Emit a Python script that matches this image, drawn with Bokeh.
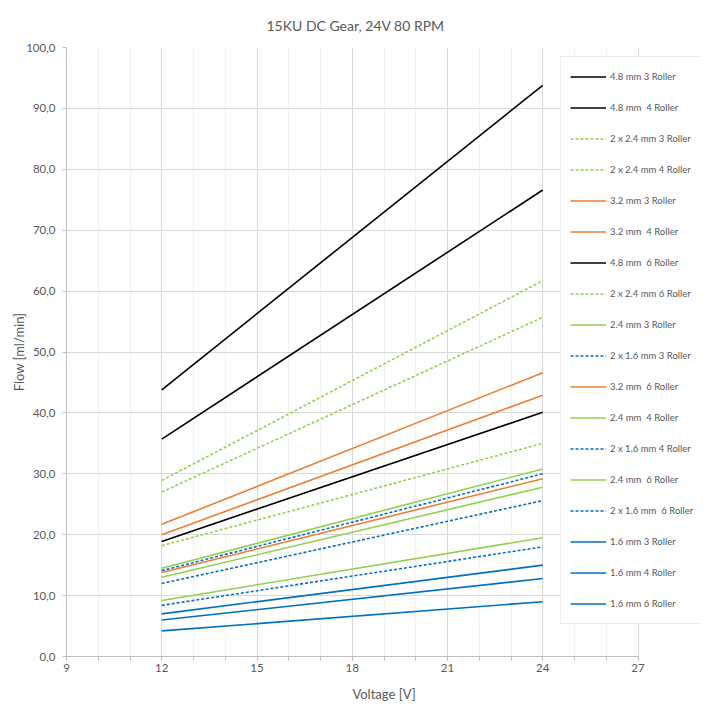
from bokeh.plotting import figure
from bokeh.models import Legend, LegendItem, FixedTicker
from bokeh.embed import file_html
from bokeh.resources import INLINE

voltage = [12, 24]
series_names = [
    "4.8 mm 3 Roller", "4.8 mm  4 Roller", "2 x 2.4 mm 3 Roller", "2 x 2.4 mm 4 Roller",
    "3.2 mm 3 Roller", "3.2 mm  4 Roller", "4.8 mm  6 Roller", "2 x 2.4 mm 6 Roller",
    "2.4 mm 3 Roller", "2 x 1.6 mm 3 Roller", "3.2 mm  6 Roller", "2.4 mm  4 Roller",
    "2 x 1.6 mm 4 Roller", "2.4 mm  6 Roller", "2 x 1.6 mm  6 Roller", "1.6 mm 3 Roller",
    "1.6 mm 4 Roller", "1.6 mm 6 Roller",
]
flow_at_12v = [43.8, 35.7, 28.9, 27.0, 21.7, 20.0, 18.9, 18.2, 14.5, 14.1, 13.8, 13.0, 12.0, 9.2, 8.4, 7.0, 6.0, 4.2]
flow_at_24v = [93.8, 76.6, 61.7, 55.7, 46.6, 42.9, 40.1, 35.0, 30.8, 30.0, 29.2, 27.8, 25.6, 19.5, 18.0, 15.0, 12.8, 9.0]

x_ticks = [9, 12, 15, 18, 21, 24, 27]
x_minor = list(range(9, 28))
y_ticks = [0, 10, 20, 30, 40, 50, 60, 70, 80, 90, 100]
y_tick_labels = ["0,0", "10,0", "20,0", "30,0", "40,0", "50,0", "60,0", "70,0", "80,0", "90,0", "100,0"]

BLACK, GREEN, ORANGE, BLUE = "#000000", "#92D050", "#ED7D31", "#0070C0"
colors = [BLACK, BLACK, GREEN, GREEN, ORANGE, ORANGE, BLACK, GREEN, GREEN, BLUE,
          ORANGE, GREEN, BLUE, GREEN, BLUE, BLUE, BLUE, BLUE]
dashed = [False, False, True, True, False, False, False, True, False, True,
          False, False, True, False, True, False, False, False]

TXT = "#595959"
FONT = "Lato"

# frame extended to the right so the legend can overhang the 27 V edge
p = figure(width=709, height=704, x_range=(9, 29), y_range=(0, 100),
           output_backend="svg", toolbar_location=None,
           title="15KU DC Gear, 24V 80 RPM",
           min_border_left=66, min_border_right=8, min_border_top=45, min_border_bottom=47)
p.outline_line_color = None
p.title.align = "left"
p.title.offset = 200
p.title.standoff = 28
p.title.text_font = FONT
p.title.text_font_size = "14px"
p.title.text_font_style = "normal"
p.title.text_color = TXT

xt = FixedTicker(ticks=x_ticks, minor_ticks=x_minor)
yt = FixedTicker(ticks=y_ticks, minor_ticks=[])
p.xaxis.ticker = xt
p.yaxis.ticker = yt
p.xaxis.bounds = (9, 27)
p.xgrid.ticker = xt
p.ygrid.ticker = yt
p.xgrid.grid_line_color = "#D9D9D9"
p.ygrid.grid_line_color = "#D9D9D9"
p.xgrid.minor_grid_line_color = "#F2F2F2"
p.yaxis.major_label_overrides = dict(zip(y_ticks, y_tick_labels))
covered = False
try:
    p.ygrid.cross_bounds = (9, 27)
    covered = True
except Exception:
    pass
if not covered:
    p.quad(left=27.04, right=29, bottom=0, top=100, fill_color="white", line_color=None)

for ax in (p.xaxis, p.yaxis):
    ax.axis_line_color = "#BFBFBF"
    ax.major_tick_line_color = "#BFBFBF"
    ax.minor_tick_line_color = "#BFBFBF"
    ax.major_tick_in = 0
    ax.major_tick_out = 4
    ax.minor_tick_in = 0
    ax.minor_tick_out = 4
    ax.major_label_text_font = FONT
    ax.major_label_text_font_size = "11.5px"
    ax.major_label_text_color = TXT
    ax.axis_label_text_font = FONT
    ax.axis_label_text_font_size = "13px"
    ax.axis_label_text_font_style = "normal"
    ax.axis_label_text_color = TXT
p.yaxis.minor_tick_out = 0
p.xaxis.axis_label = "Voltage [V]"
p.yaxis.axis_label = "Flow [ml/min]"
p.xaxis.major_label_standoff = 3
p.xaxis.axis_label_standoff = 11
p.yaxis.major_label_standoff = 7
p.yaxis.axis_label_standoff = -4

items = []
for name, a, b, c, d in zip(series_names, flow_at_12v, flow_at_24v, colors, dashed):
    r = p.line(voltage, [a, b], line_color=c, line_width=1.6,
               line_dash="3 2" if d else "solid")
    items.append(LegendItem(label=name, renderers=[r]))

legend = Legend(items=items, location=(494, 32))
legend.border_line_color = "#D9D9D9"
legend.border_line_width = 1
legend.background_fill_color = "white"
legend.background_fill_alpha = 1.0
legend.label_text_font = FONT
legend.label_text_font_size = "9.5px"
legend.label_text_color = TXT
legend.glyph_width = 36
legend.glyph_height = 21
legend.label_height = 21
legend.label_width = 83
legend.spacing = 10
legend.padding = 9
legend.margin = 0
legend.label_standoff = 4
p.add_layout(legend)

open("out.html", "w").write(file_html(p, INLINE))
